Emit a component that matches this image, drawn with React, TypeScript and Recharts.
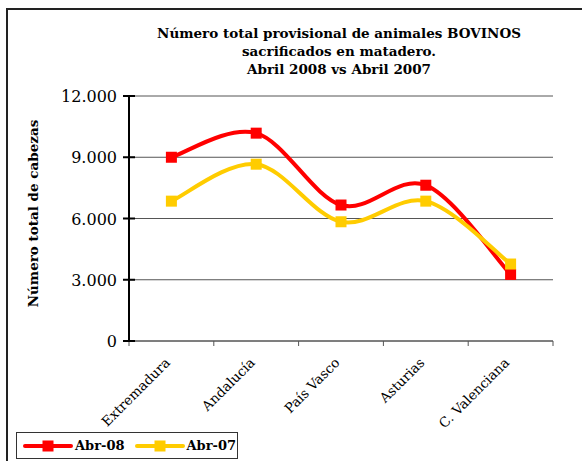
import React from "react";
import { LineChart, Line, XAxis, YAxis, CartesianGrid } from "recharts";

const regions = ["Extremadura", "Andalucía", "País Vasco", "Asturias", "C. Valenciana"];
const abr08 = [9000, 10180, 6660, 7630, 3260];
const abr07 = [6850, 8660, 5840, 6850, 3770];
const yTicks = [0, 3000, 6000, 9000, 12000];

const series = [
    { key: "abr08", name: "Abr-08", color: "#FF0000", values: abr08 },
    { key: "abr07", name: "Abr-07", color: "#FFCC00", values: abr07 },
];

const data = regions.map((region, i) => ({
    region,
    abr08: abr08[i],
    abr07: abr07[i],
}));

const FONT = "'DejaVu Serif', serif";
const W = 582;
const H = 461;
const PLOT = { left: 129, right: 553, top: 96, bottom: 341 };
const HALF_BAND = (PLOT.right - PLOT.left) / regions.length / 2;

// Excel style smoothed line (bezier with 1/6 tension)
const excelSmooth = (context: any) => {
    let pts: number[][] = [];
    return {
        areaStart() {},
        areaEnd() {},
        lineStart() {
            pts = [];
        },
        point(x: number, y: number) {
            pts.push([+x, +y]);
        },
        lineEnd() {
            if (!pts.length) return;
            context.moveTo(pts[0][0], pts[0][1]);
            for (let i = 0; i < pts.length - 1; i++) {
                const p0 = pts[i - 1] || pts[i];
                const p1 = pts[i];
                const p2 = pts[i + 1];
                const p3 = pts[i + 2] || p2;
                context.bezierCurveTo(
                    p1[0] + (p2[0] - p0[0]) / 6,
                    p1[1] + (p2[1] - p0[1]) / 6,
                    p2[0] - (p3[0] - p1[0]) / 6,
                    p2[1] - (p3[1] - p1[1]) / 6,
                    p2[0],
                    p2[1]
                );
            }
        },
    };
};

const SquareDot = (color: string) => (props: any) => {
    const { cx, cy, index } = props;
    if (cx == null || cy == null) return <g key={index} />;
    return <rect key={index} x={cx - 5.5} y={cy - 5.5} width={11} height={11} fill={color} />;
};

const YTick = (props: any) => {
    const { y, payload } = props;
    const label = payload.value.toLocaleString("de-DE");
    return (
        <g>
            <line x1={PLOT.left - 6} x2={PLOT.left + 6} y1={y} y2={y} stroke="#000" strokeWidth={2} />
            <text x={PLOT.left - 12} y={y} dy={6} textAnchor="end" fontFamily={FONT} fontSize={16} fill="#000">
                {label}
            </text>
        </g>
    );
};

const XTick = (props: any) => {
    const { x, y, payload, index } = props;
    return (
        <g>
            <line x1={x - HALF_BAND} x2={x - HALF_BAND} y1={PLOT.bottom} y2={PLOT.bottom + 5} stroke="#555" />
            {index === regions.length - 1 && (
                <line x1={x + HALF_BAND} x2={x + HALF_BAND} y1={PLOT.bottom} y2={PLOT.bottom + 5} stroke="#555" />
            )}
            <text
                transform={`translate(${x - 4},${y + 11}) rotate(-45)`}
                textAnchor="end"
                dy={5}
                fontFamily={FONT}
                fontSize={13.5}
                fill="#000"
            >
                {payload.value}
            </text>
        </g>
    );
};

const YLabel = (props: any) => {
    const { viewBox } = props;
    const cy = viewBox.y + viewBox.height / 2 - 5;
    return (
        <text
            transform={`translate(38,${cy}) rotate(-90)`}
            textAnchor="middle"
            fontFamily={FONT}
            fontSize={13.5}
            fontWeight="bold"
            fill="#000"
        >
            Número total de cabezas
        </text>
    );
};

export default function App() {
    return (
        <div style={{ position: "absolute", left: 0, top: 0, width: W, height: H, background: "#fff", overflow: "hidden" }}>
            <div
                style={{
                    position: "absolute",
                    left: 6,
                    top: 8,
                    width: W,
                    height: H,
                    borderTop: "2px solid #222",
                    borderLeft: "2px solid #222",
                }}
            />
            <div
                style={{
                    position: "absolute",
                    left: 119,
                    width: 440,
                    top: 24,
                    textAlign: "center",
                    fontFamily: FONT,
                    fontWeight: "bold",
                    fontSize: 13.5,
                    lineHeight: "18px",
                    color: "#000",
                    whiteSpace: "nowrap",
                }}
            >
                Número total provisional de animales BOVINOS
                <br />
                sacrificados en matadero.
                <br />
                Abril 2008 vs Abril 2007
            </div>
            <div style={{ position: "absolute", left: 0, top: 0 }}>
                <LineChart
                    width={W}
                    height={H}
                    data={data}
                    margin={{ top: PLOT.top, right: W - PLOT.right, bottom: 40, left: PLOT.left - 60 }}
                >
                    <CartesianGrid vertical={false} stroke="#555" strokeWidth={1} />
                    <XAxis
                        dataKey="region"
                        height={80}
                        axisLine={{ stroke: "#555" }}
                        tickLine={false}
                        interval={0}
                        padding={{ left: HALF_BAND, right: HALF_BAND }}
                        tick={<XTick />}
                    />
                    <YAxis
                        width={60}
                        domain={[0, 12000]}
                        ticks={yTicks}
                        axisLine={{ stroke: "#000", strokeWidth: 2 }}
                        tickLine={false}
                        tick={<YTick />}
                        label={{ content: <YLabel /> }}
                    />
                    {series.map((s) => (
                        <Line
                            key={s.key}
                            dataKey={s.key}
                            name={s.name}
                            type={excelSmooth as any}
                            stroke={s.color}
                            strokeWidth={4}
                            dot={SquareDot(s.color)}
                            activeDot={false}
                            isAnimationActive={false}
                        />
                    ))}
                </LineChart>
            </div>
            <div
                style={{
                    position: "absolute",
                    left: 16,
                    top: 432,
                    width: 220,
                    height: 25,
                    border: "1px solid #333",
                    display: "flex",
                    alignItems: "center",
                    fontFamily: FONT,
                    fontWeight: "bold",
                    fontSize: 13,
                    color: "#000",
                    whiteSpace: "nowrap",
                }}
            >
                {series.map((s, i) => (
                    <div key={s.key} style={{ display: "flex", alignItems: "center", marginLeft: i === 0 ? 6 : 10 }}>
                        <svg width={50} height={12}>
                            <line x1={2} x2={48} y1={6} y2={6} stroke={s.color} strokeWidth={4} strokeLinecap="round" />
                            <rect x={19.5} y={0.5} width={11} height={11} fill={s.color} />
                        </svg>
                        <span style={{ marginLeft: 2 }}>{s.name}</span>
                    </div>
                ))}
            </div>
        </div>
    );
}
